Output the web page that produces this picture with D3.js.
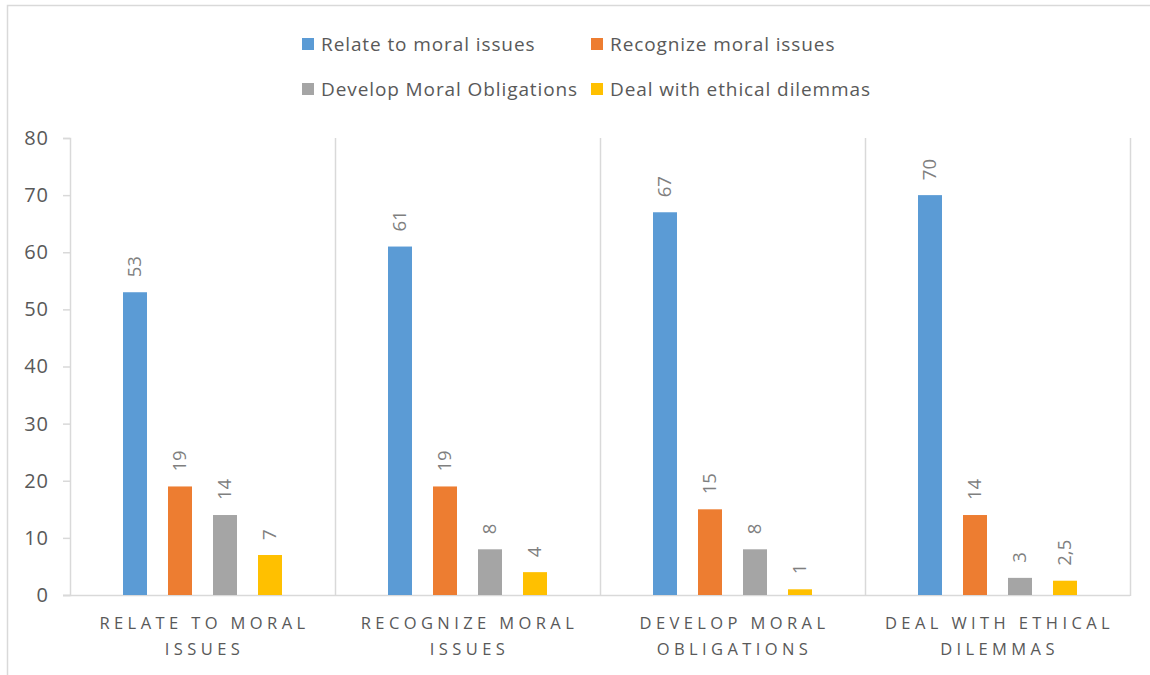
<!DOCTYPE html>
<html><head><meta charset="utf-8">
<script src="https://cdn.jsdelivr.net/npm/d3@7"></script>
<style>
html,body{margin:0;padding:0;background:#fff;}
svg{display:block;font-family:"Open Sans",sans-serif;}
</style></head>
<body>
<svg id="chart" width="1150" height="675"></svg>
<script>
const categories = [["RELATE TO MORAL","ISSUES"],["RECOGNIZE MORAL","ISSUES"],["DEVELOP MORAL","OBLIGATIONS"],["DEAL WITH ETHICAL","DILEMMAS"]];
const seriesNames = ["Relate to moral issues","Recognize moral issues","Develop Moral Obligations","Deal with ethical dilemmas"];
const seriesColors = ["#5b9bd5","#ed7d31","#a5a5a5","#ffc000"];
const relateValues = [53,61,67,70];
const recognizeValues = [19,19,15,14];
const developValues = [14,8,8,3];
const dealValues = [7,4,1,2.5];
const yTicks = [0,10,20,30,40,50,60,70,80];

const seriesValues = [relateValues, recognizeValues, developValues, dealValues];
const svg = d3.select("#chart");

// outer border
svg.append("rect").attr("x",7.5).attr("y",5.5).attr("width",1160).attr("height",690)
  .attr("fill","none").attr("stroke","#d9d9d9").attr("stroke-width",1.5);

const plotL = 70, plotR = 1130, plotT = 138, plotB = 595;
const catIdx = d3.range(categories.length);
const x0 = d3.scaleBand().domain(catIdx).range([plotL,plotR]).padding(0);
const x1 = d3.scaleBand().domain(d3.range(seriesNames.length)).range([0,x0.bandwidth()])
  .paddingInner(0.467).paddingOuter(1.178);
const y = d3.scaleLinear().domain([0,80]).range([plotB,plotT]);

// category separators
svg.append("g").selectAll("line").data(catIdx).join("line")
  .attr("x1",d=>x0(d)+x0.bandwidth()+0.5).attr("x2",d=>x0(d)+x0.bandwidth()+0.5)
  .attr("y1",plotT).attr("y2",plotB+1)
  .attr("stroke","#d9d9d9").attr("stroke-width",1.5);

// y axis
const yAxis = d3.axisLeft(y).tickValues(yTicks).tickSize(7).tickPadding(14);
const ga = svg.append("g").attr("transform",`translate(${plotL},0)`).call(yAxis);
ga.select(".domain").attr("stroke","#d9d9d9").attr("stroke-width",1.5);
ga.selectAll(".tick line").attr("stroke","#d9d9d9").attr("stroke-width",1.5);
ga.selectAll(".tick text").attr("fill","#595959").attr("font-size",20)
  .attr("letter-spacing","1px").attr("font-family","Open Sans, sans-serif");

// x axis line
svg.append("line").attr("x1",plotL-7).attr("x2",plotR).attr("y1",plotB+0.5).attr("y2",plotB+0.5)
  .attr("stroke","#d9d9d9").attr("stroke-width",1.5);

// bars
const groups = svg.append("g").selectAll("g").data(catIdx).join("g")
  .attr("transform",d=>`translate(${x0(d)},0)`);
groups.selectAll("rect").data(c=>seriesValues.map((s,i)=>({i,v:s[c]}))).join("rect")
  .attr("x",d=>x1(d.i)).attr("width",x1.bandwidth())
  .attr("y",d=>y(d.v)).attr("height",d=>y(0)-y(d.v))
  .attr("fill",d=>seriesColors[d.i]);
groups.selectAll("text").data(c=>seriesValues.map((s,i)=>({i,v:s[c]}))).join("text")
  .attr("transform",d=>`translate(${x1(d.i)+x1.bandwidth()/2},${y(d.v)-15}) rotate(-90)`)
  .attr("dy","0.35em")
  .attr("text-anchor","start")
  .attr("fill","#7f7f7f").attr("font-size",18.5)
  .text(d=>String(d.v).replace(".",","));

// category labels
const cl = svg.append("g").selectAll("text").data(catIdx).join("text")
  .attr("x",d=>x0(d)+x0.bandwidth()/2+2).attr("y",629)
  .attr("text-anchor","middle").attr("fill","#595959").attr("font-size",16.5)
  .attr("letter-spacing","4.4px");
cl.selectAll("tspan").data(d=>categories[d]).join("tspan")
  .attr("x",function(){return d3.select(this.parentNode).attr("x");})
  .attr("dy",(d,i)=>i===0?0:26).text(d=>d);

// legend
const legPos = [[302,44],[591,44],[302,89],[591,89]];
const leg = svg.append("g").selectAll("g").data(seriesNames).join("g")
  .attr("transform",(d,i)=>`translate(${legPos[i][0]},${legPos[i][1]})`);
leg.append("rect").attr("x",0).attr("y",-6).attr("width",12).attr("height",12)
  .attr("fill",(d,i)=>seriesColors[i]);
leg.append("text").attr("x",19).attr("y",0).attr("dy","0.36em")
  .attr("fill","#595959").attr("font-size",19).attr("letter-spacing","0.9px").text(d=>d);
</script>
</body></html>
